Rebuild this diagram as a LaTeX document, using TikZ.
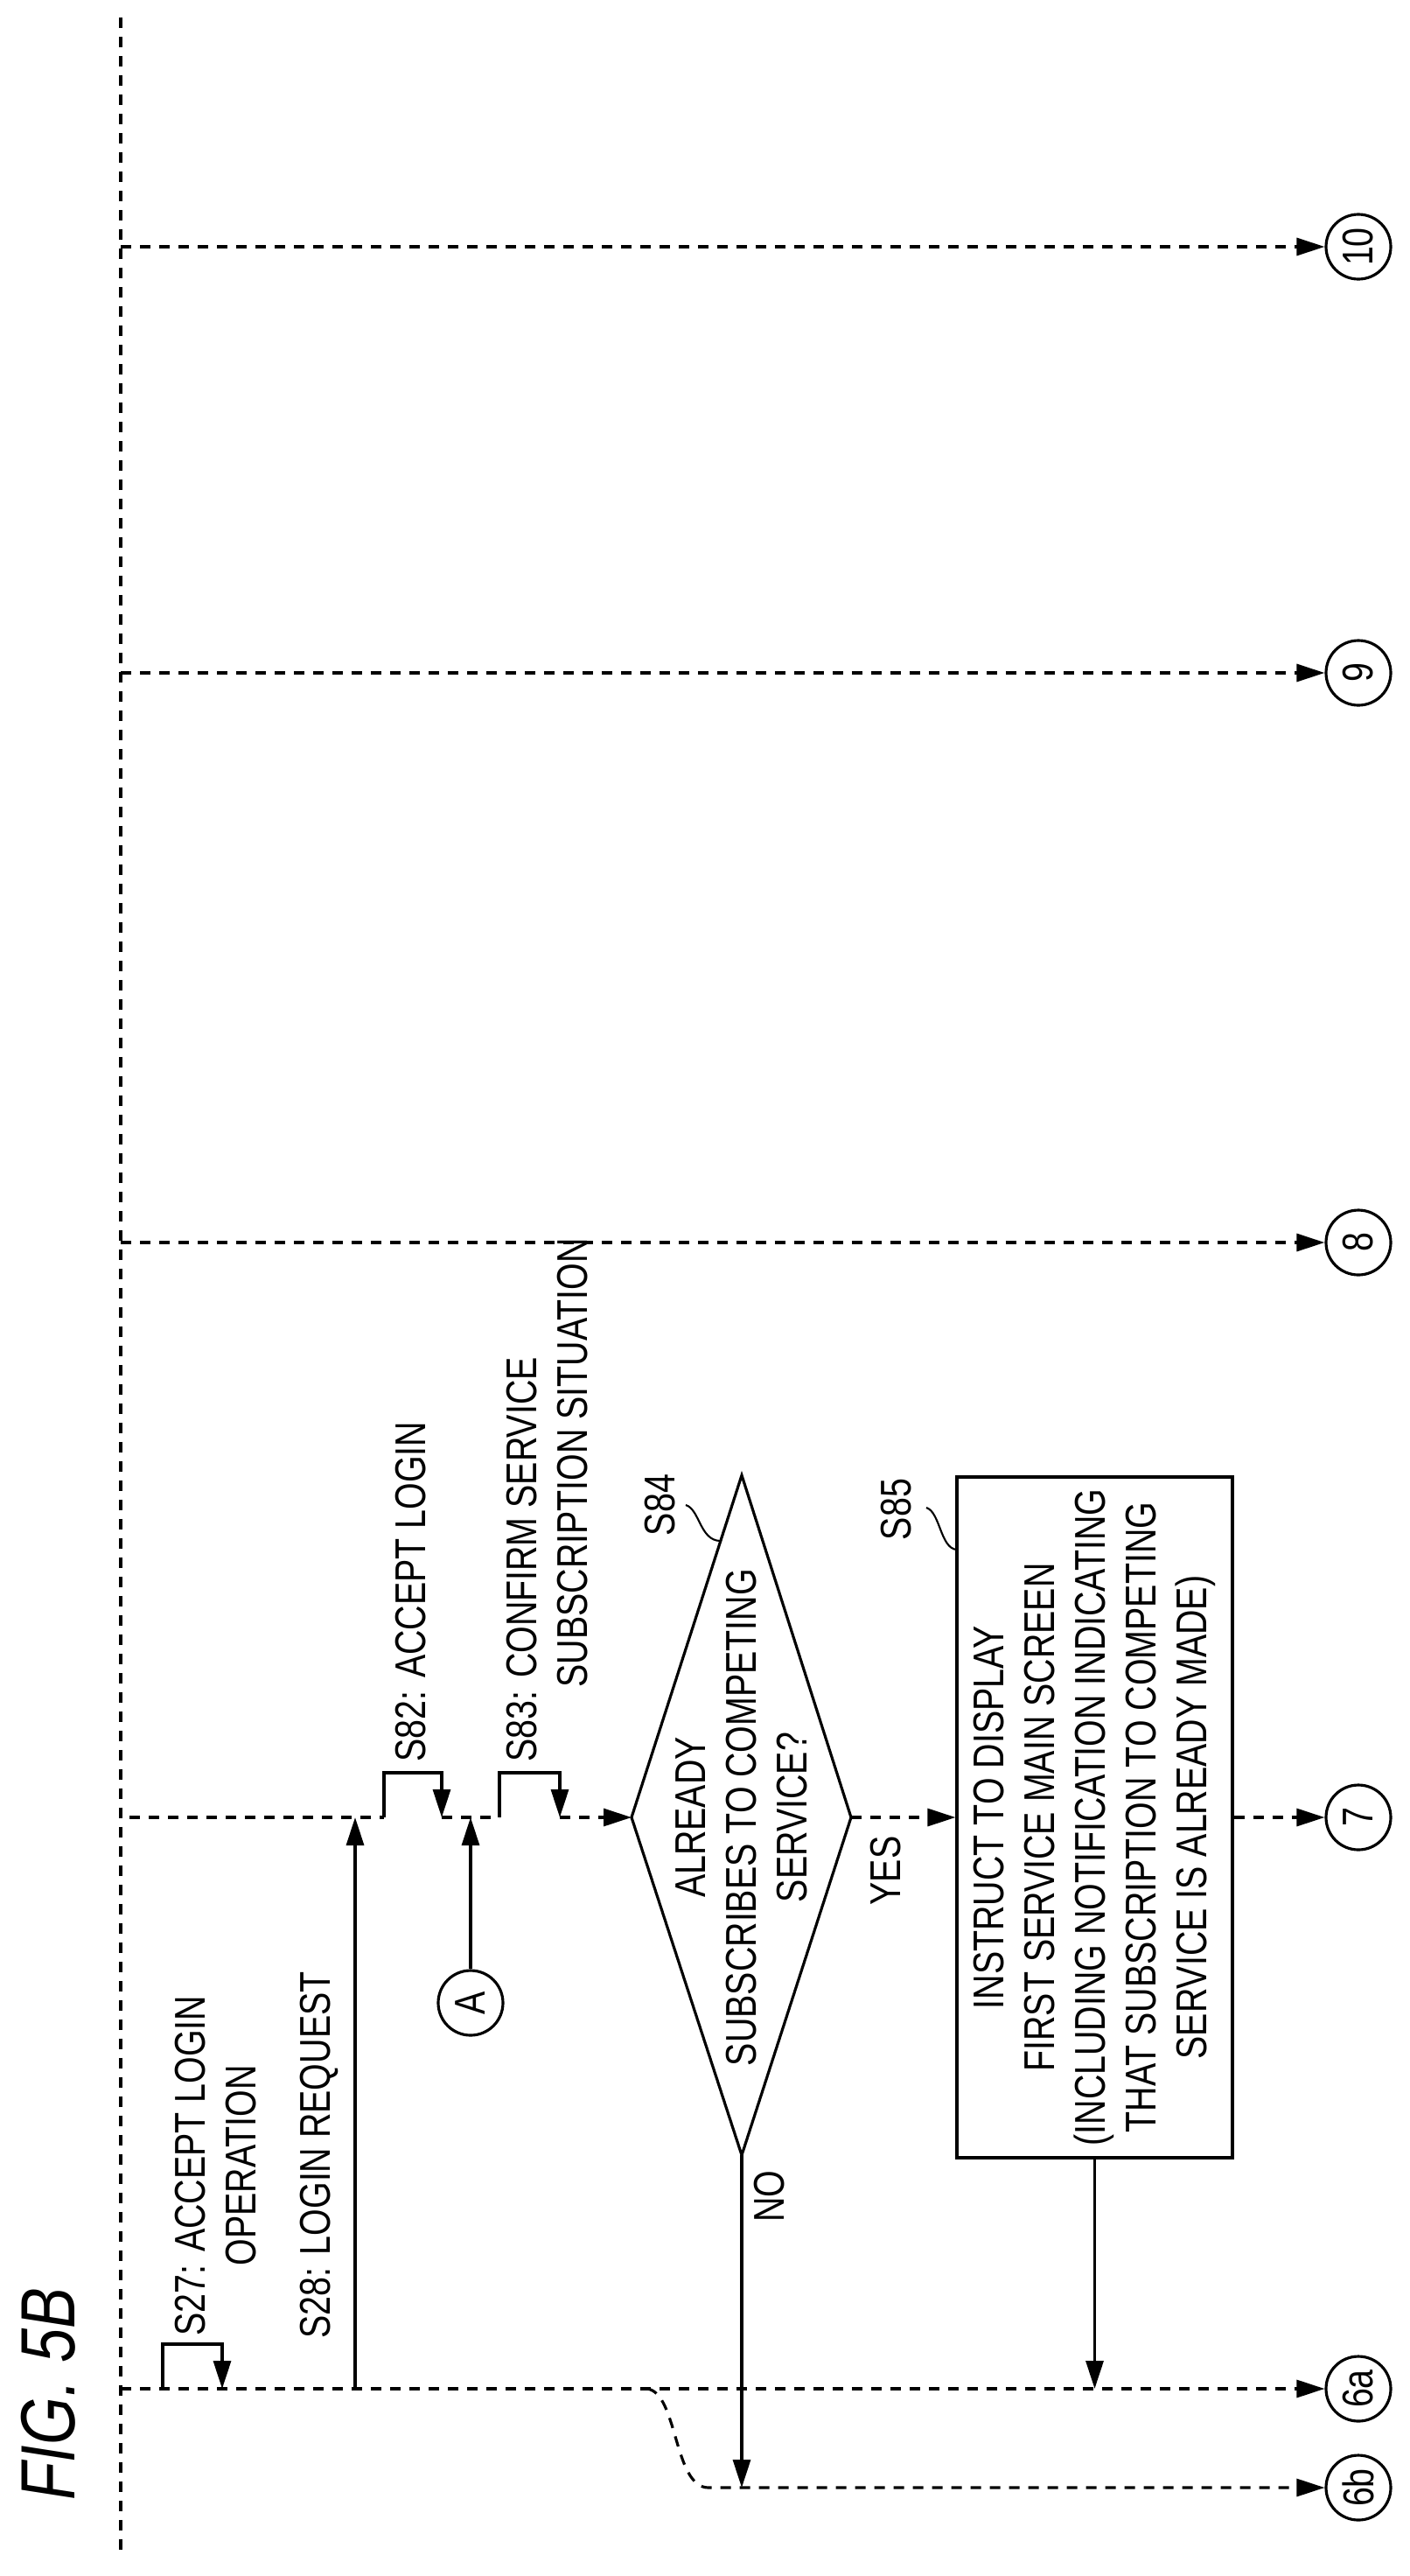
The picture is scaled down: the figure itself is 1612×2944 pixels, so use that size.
\documentclass[tikz,border=0pt]{standalone}
\usepackage{fontspec}
\setmainfont{Liberation Sans}[FakeStretch=0.8]
\usepackage{tikz}
\usetikzlibrary{arrows.meta,positioning}

\begin{document}
\begin{tikzpicture}[x=0.1mm,y=-0.1mm,line width=0.9pt,
    txt/.style={font=\fontsize{14}{16.5}\selectfont,rotate=90,inner sep=0pt,align=center},
    conn/.style={circle,draw,minimum size=7.4mm,inner sep=0pt,font=\fontsize{14}{16}\selectfont,rotate=90},
    dsh/.style={dash pattern=on 1.2mm off 1mm},
    arr/.style={-{Triangle[length=3.2mm,width=2mm]}}]

    \useasboundingbox (0,0) rectangle (1612,2944);

    % title and lifeline
    \node[rotate=90,font=\fontsize{25}{25}\itshape] (fig) at (55,2736) {FIG. 5B};
    \coordinate (ltop) at (138,20);
    \coordinate (lbot) at (138,2920);
    \draw[dsh] (ltop) -- (lbot);

    % connectors
    \node[conn] (c10) at (1553,282) {10};
    \node[conn] (c9) at (1553,769) {9};
    \node[conn] (c8) at (1553,1420) {8};
    \node[conn] (c7) at (1553,2077) {7};
    \node[conn] (c6a) at (1553,2730) {6a};
    \node[conn] (c6b) at (1553,2843) {6b};
    \node[conn] (cA) at (538,2289) {A};

    \draw[dsh,arr] (138,282) -- (c10);
    \draw[dsh,arr] (138,769) -- (c9);
    \draw[dsh,arr] (138,1420) -- (c8);
    \draw[dsh,arr] (138,2730) -- (c6a);

    % decision and box
    \coordinate (dl) at (722,2077);
    \coordinate (dr) at (973,2077);
    \coordinate (dt) at (848,1686);
    \coordinate (db) at (848,2463);
    \draw (dl) -- (dt) -- (dr) -- (db) -- cycle;
    \node[txt] (q) at (848,2077) {ALREADY\\SUBSCRIBES TO COMPETING\\SERVICE?};
    \node[draw,minimum width=31.5mm,minimum height=77.8mm,inner sep=0pt] (box) at (1251.5,2077) {};
    \node[txt] (boxtxt) at (box.center) {INSTRUCT TO DISPLAY\\FIRST SERVICE MAIN SCREEN\\(INCLUDING NOTIFICATION INDICATING\\THAT SUBSCRIPTION TO COMPETING\\SERVICE IS ALREADY MADE)};

    % lifeline 7
    \draw[dsh] (148,2077) -- (439,2077);
    \draw[dsh] (505,2077) -- (571,2077);
    \draw[dsh,arr] (640,2077) -- (dl);
    \draw[dsh,arr] (dr) -- (box.west |- dr);
    \draw[dsh,arr] (box.east |- c7) -- (c7);

    % self loops
    \draw[arr] (186,2730) -- (186,2679) -- (254,2679) -- (254,2730);
    \draw[arr] (439,2077) -- (439,2026) -- (505,2026) -- (505,2077);
    \draw[arr] (571,2077) -- (571,2026) -- (640,2026) -- (640,2077);

    \draw[arr] (406,2730) -- (406,2077);
    \draw[arr] (cA) -- (538,2077);
    \draw[arr] (db) -- (848,2843);
    \draw[arr] (box.south) -- (box.south |- c6a);

    % branch to 6b
    \draw[dsh,arr] (740,2730) .. controls (775,2735) and (770,2843) .. (810,2843) -- (c6b);

    % labels
    \node[txt] (l27) at (247,2475) {S27: ACCEPT LOGIN\\OPERATION};
    \node[txt] (l28) at (365,2463) {S28: LOGIN REQUEST};
    \node[txt,anchor=west] (l82) at (470,2015) {S82: ACCEPT LOGIN};
    \node[txt,anchor=north west,align=left] (l83) at (578,2015) {S83: CONFIRM SERVICE\\\hspace*{8.5mm}SUBSCRIPTION SITUATION};
    \node[txt] (yes) at (1013,2138) {YES};
    \node[txt] (no) at (880,2510) {NO};
    \node[txt] (l84) at (755,1720) {S84};
    \node[txt] (l85) at (1025,1725) {S85};
    \draw[line width=0.6pt] (784,1720) .. controls (800,1725) and (800,1760) .. (823,1761);
    \draw[line width=0.6pt] (1059,1723) .. controls (1075,1728) and (1075,1770) .. (1094,1771);

\end{tikzpicture}
\end{document}
